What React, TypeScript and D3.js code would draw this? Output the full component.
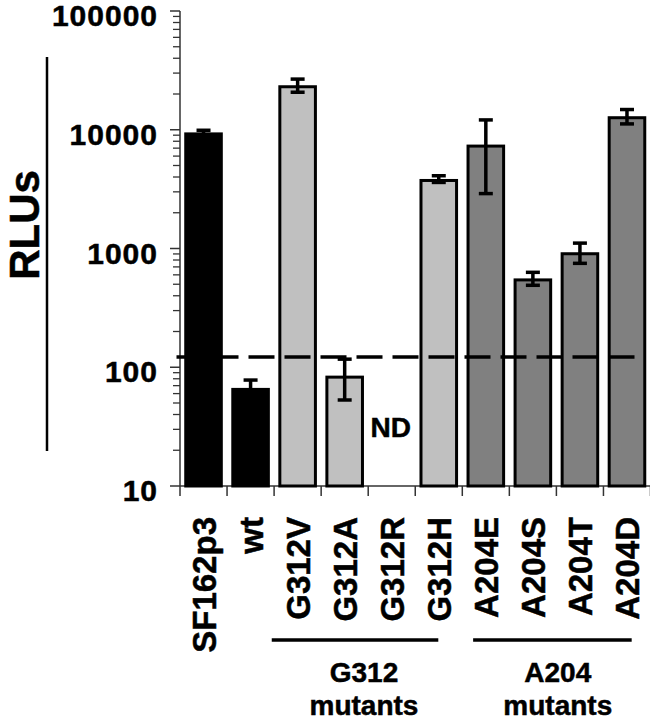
import * as d3 from "d3";

// RLU values; null = not determined (ND)
const categories = ["SF162p3", "wt", "G312V", "G312A", "G312R", "G312H", "A204E", "A204S", "A204T", "A204D"];
const values: (number | null)[] = [9500, 67, 23700, 85, null, 3850, 7500, 560, 930, 13000];
const errors: (number | null)[] = [400, 11, 3000, 32, null, 250, 4600, 70, 180, 1800];
const groupOf = ["ctrl", "ctrl", "G312", "G312", "G312", "G312", "A204", "A204", "A204", "A204"];
const yTicks = [10, 100, 1000, 10000, 100000];
const threshold = 122;

const groups = [
  { name: "G312", lines: ["G312", "mutants"], from: 1.95, to: 5.49, label: 3.91 },
  { name: "A204", lines: ["A204", "mutants"], from: 6.23, to: 9.6, label: 8.03 },
];

const fills: Record<string, string> = { ctrl: "#000000", G312: "#c0c0c0", A204: "#808080" };
const FONT = "'Liberation Sans', Arial, Helvetica, sans-serif";

const W = 650;
const H = 720;
const left = 180;
const right = 650.5;
const top = 11;
const base = 486;

export default function App() {
  const x = d3.scaleBand<string>().domain(categories).range([left, right]).paddingInner(0.18).paddingOuter(0.09);
  const idx = d3.scaleLinear().domain([0, categories.length]).range([left, right]);
  const y = d3.scaleLog().domain([10, 100000]).range([base, top]);
  const bw = x.bandwidth();

  const minor: number[] = [];
  for (let dec = 10; dec < 100000; dec *= 10) {
    for (let k = 2; k <= 9; k++) minor.push(dec * k);
  }

  const sw = 3;
  // a hairline stroke makes the bold text as heavy as in the scan
  const heavy = { stroke: "#000", strokeWidth: 0.5 };

  return (
    <svg width={W} height={H} style={{ position: "absolute", left: 0, top: 0, background: "#fff" }}>
      {/* y-axis title and side rule */}
      <text
        transform={`translate(39,225) rotate(-90)`}
        textAnchor="middle"
        fontFamily={FONT}
        fontWeight="bold"
        fontSize={42}
        {...heavy}
      >
        RLUs
      </text>
      <line x1={47} x2={47} y1={57} y2={451} stroke="#000" strokeWidth={2.5} />

      {/* y axis */}
      <line x1={left} x2={left} y1={top} y2={base} stroke="#333" strokeWidth={1.5} />
      {minor.map((v) => (
        <line key={"m" + v} x1={left - 7} x2={left} y1={y(v)} y2={y(v)} stroke="#333" strokeWidth={1.3} />
      ))}
      {yTicks.map((v) => (
        <g key={v}>
          <line x1={left - 10} x2={left} y1={y(v)} y2={y(v)} stroke="#333" strokeWidth={1.5} />
          <text
            x={158}
            y={y(v) + 15}
            textAnchor="end"
            fontFamily={FONT}
            fontWeight="bold"
            fontSize={30}
            letterSpacing={1}
            {...heavy}
          >
            {v}
          </text>
        </g>
      ))}

      {/* x axis */}
      <line x1={left} x2={right} y1={base} y2={base} stroke="#333" strokeWidth={1.5} />
      {d3.range(categories.length + 1).map((i) => (
        <line key={"t" + i} x1={idx(i)} x2={idx(i)} y1={base} y2={base + 10} stroke="#333" strokeWidth={1.5} />
      ))}

      {/* bars */}
      {categories.map((c, i) => {
        const v = values[i];
        if (v == null) return null;
        const yt = y(v);
        return (
          <rect
            key={c}
            x={(x(c) ?? 0) + sw / 2}
            y={yt + sw / 2}
            width={bw - sw}
            height={base - yt - sw / 2}
            fill={fills[groupOf[i]]}
            stroke="#000"
            strokeWidth={sw}
          />
        );
      })}

      {/* error bars */}
      {categories.map((c, i) => {
        const v = values[i];
        const e = errors[i];
        if (v == null || e == null) return null;
        const cx = (x(c) ?? 0) + bw / 2;
        const y1 = y(v + e);
        const y0 = y(v - e);
        return (
          <g key={"e" + c} stroke="#000" strokeWidth={3.5}>
            <line x1={cx} x2={cx} y1={y1} y2={y0} />
            <line x1={cx - 7} x2={cx + 7} y1={y1} y2={y1} />
            <line x1={cx - 7} x2={cx + 7} y1={y0} y2={y0} />
          </g>
        );
      })}

      {/* detection threshold */}
      <line
        x1={176.5}
        x2={638.5}
        y1={y(threshold)}
        y2={y(threshold)}
        stroke="#000"
        strokeWidth={3.5}
        strokeDasharray="26 10"
      />

      {/* ND marker */}
      {categories.map((c, i) =>
        values[i] == null ? (
          <text
            key={"nd" + c}
            x={(x(c) ?? 0) + bw / 2 - 1}
            y={437}
            textAnchor="middle"
            fontFamily={FONT}
            fontWeight="bold"
            fontSize={28}
            {...heavy}
          >
            ND
          </text>
        ) : null
      )}

      {/* category labels */}
      {categories.map((c) => {
        const cx = (x(c) ?? 0) + bw / 2;
        return (
          <text
            key={"l" + c}
            transform={`translate(${cx + 12},517) rotate(-90)`}
            textAnchor="end"
            fontFamily={FONT}
            fontWeight="bold"
            fontSize={33}
            {...heavy}
          >
            {c}
          </text>
        );
      })}

      {/* group brackets */}
      {groups.map((g) => (
        <g key={g.name}>
          <line x1={idx(g.from)} x2={idx(g.to)} y1={640} y2={640} stroke="#000" strokeWidth={3.5} />
          {g.lines.map((t, k) => (
            <text
              key={t}
              x={idx(g.label)}
              y={682 + k * 33}
              textAnchor="middle"
              fontFamily={FONT}
              fontWeight="bold"
              fontSize={28}
              {...heavy}
            >
              {t}
            </text>
          ))}
        </g>
      ))}
    </svg>
  );
}
